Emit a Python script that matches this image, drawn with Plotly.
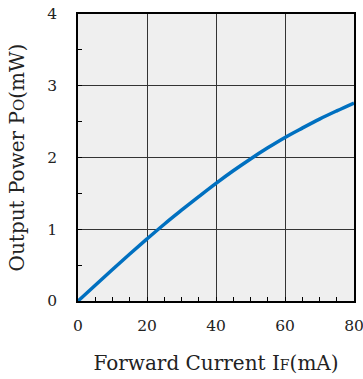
import plotly.graph_objects as go

current_ma = [0, 5, 10, 15, 20, 25, 30, 35, 40, 45, 50, 55, 60, 65, 70, 75, 80]
power_mw = [0, 0.22, 0.44, 0.655, 0.865, 1.07, 1.265, 1.455, 1.64, 1.815, 1.98, 2.135, 2.28, 2.41, 2.535, 2.65, 2.76]
x_ticks = [0, 20, 40, 60, 80]
y_ticks = [0, 1, 2, 3, 4]

font_family = "DejaVu Serif, Liberation Serif, serif"

fig = go.Figure()
fig.add_trace(go.Scatter(x=current_ma, y=power_mw, mode="lines",
                         line=dict(color="#0070c0", width=3.5, shape="spline"),
                         hoverinfo="skip"))

axis_common = dict(
    showline=True, linecolor="black", linewidth=1.5, mirror=True,
    showgrid=True, gridcolor="#333333", gridwidth=1,
    ticks="inside", ticklen=4, tickcolor="black",
    zeroline=False, automargin=False, ticklabeloverflow="allow",
    tickfont=dict(family=font_family, size=15.5, color="#222222"),
)

fig.update_xaxes(range=[0, 80], tickvals=x_ticks, ticklabelstandoff=10,
                 minor=dict(dtick=5, ticks="inside", ticklen=4, tickcolor="black", showgrid=False),
                 title=dict(text="Forward Current I<span style='font-size:14px'>F</span>(mA)",
                            font=dict(family=font_family, size=20, color="#222222"), standoff=22),
                 **axis_common)
fig.update_yaxes(range=[0, 4], tickvals=y_ticks, ticklabelstandoff=16,
                 minor=dict(dtick=0.5, ticks="inside", ticklen=4, tickcolor="black", showgrid=False),
                 title=dict(text="Output Power P<span style='font-size:15px'>O</span>(mW)",
                            font=dict(family=font_family, size=20, color="#222222"), standoff=17),
                 **axis_common)

fig.update_layout(
    width=363, height=379,
    margin=dict(l=78, r=9, t=14, b=78),
    plot_bgcolor="#efefef", paper_bgcolor="white",
    showlegend=False,
)

fig.write_html("out.html", config={"displayModeBar": False},
               post_script="document.body.style.margin='0';")
